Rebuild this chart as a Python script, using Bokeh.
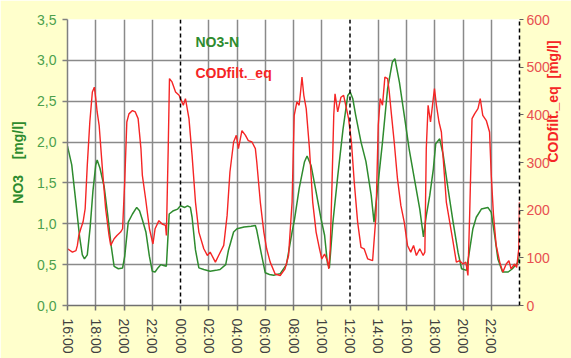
import math
from bokeh.plotting import figure
from bokeh.models import LinearAxis, Range1d, FixedTicker, Span, Label
from bokeh.embed import file_html
from bokeh.resources import INLINE

# ---- data (hours counted from 00:00 of day 1; 24 = midnight) ----
no3_hours = [16.0, 16.3, 16.6, 16.85, 17.05, 17.2, 17.4, 17.6, 17.8, 18.0, 18.1, 18.3, 18.6, 18.85,
             19.1, 19.3, 19.6, 19.9, 20.05, 20.3, 20.6, 20.9, 21.1, 21.3, 21.55, 21.8, 22.0, 22.2,
             22.4, 22.6, 22.8, 23.0, 23.1, 23.2, 23.5, 23.8, 24.0, 24.3, 24.5, 24.7, 24.82, 25.06,
             25.3, 25.65, 26.1, 26.5, 26.8, 27.2, 27.4, 27.76, 28.0, 28.5, 29.0, 29.3, 29.4, 29.76,
             30.0, 30.3, 30.6, 31.06, 31.5, 31.9, 32.07, 32.4, 32.78, 32.96, 33.25, 33.6, 33.95,
             34.2, 34.4, 34.54, 34.78, 35.13, 35.5, 35.84, 36.02, 36.2, 36.4, 36.78, 37.13, 37.5,
             37.7, 37.95, 38.3, 38.66, 39.0, 39.18, 39.5, 39.84, 40.2, 40.6, 40.94, 41.2, 41.4,
             41.65, 41.9, 42.07, 42.35, 42.6, 42.94, 43.3, 43.65, 43.9, 44.24, 44.4, 44.7, 44.94,
             45.3, 45.76, 46.0, 46.24, 46.47, 46.8, 47.2, 47.5, 47.9, 48.0]
no3_values = [1.95, 1.72, 1.25, 0.85, 0.62, 0.57, 0.62, 0.95, 1.4, 1.72, 1.78, 1.68, 1.45, 1.1,
              0.72, 0.48, 0.45, 0.46, 0.6, 1.02, 1.12, 1.2, 1.16, 1.05, 0.9, 0.6, 0.42, 0.41,
              0.46, 0.5, 0.49, 0.48, 0.8, 1.12, 1.16, 1.18, 1.22, 1.2, 1.22, 1.2, 1.08, 0.68,
              0.46, 0.44, 0.42, 0.43, 0.44, 0.5, 0.68, 0.9, 0.94, 0.96, 0.97, 0.98, 0.92, 0.6,
              0.4, 0.38, 0.37, 0.39, 0.5, 0.9, 1.05, 1.43, 1.76, 1.83, 1.71, 1.39, 1.06,
              0.86, 0.52, 0.46, 1.0, 1.58, 2.15, 2.57, 2.61, 2.53, 2.33, 2.0, 1.76, 1.35,
              1.02, 1.43, 2.0, 2.65, 2.98, 3.02, 2.73, 2.33, 1.9, 1.51, 1.18, 0.84, 1.1,
              1.35, 1.67, 1.98, 2.04, 1.84, 1.43, 1.02, 0.65, 0.45, 0.43, 0.6, 0.94, 1.08,
              1.18, 1.2, 1.14, 0.86, 0.57, 0.41, 0.41, 0.45, 0.53, 0.6]

cod_hours = [16.0, 16.35, 16.6, 16.7, 16.8, 16.94, 17.1, 17.25, 17.4, 17.58, 17.76, 17.9, 18.0, 18.1,
             18.24, 18.47, 18.7, 18.94, 19.06, 19.3, 19.5, 19.76, 19.9, 20.05, 20.2, 20.35, 20.6,
             20.8, 21.0, 21.2, 21.3, 21.53, 21.8, 22.05, 22.2, 22.47, 22.7, 22.94, 23.0, 23.13,
             23.22, 23.4, 23.65, 23.9, 24.0, 24.2, 24.35, 24.6, 24.82, 25.06, 25.3, 25.65, 25.9,
             26.1, 26.47, 26.7, 27.06, 27.3, 27.5, 27.76, 27.95, 28.1, 28.35, 28.6, 28.8, 29.06,
             29.3, 29.4, 29.65, 29.9, 30.1, 30.35, 30.7, 31.06, 31.4, 31.65, 31.9, 32.05, 32.24,
             32.4, 32.5, 32.6, 32.73, 32.9, 33.13, 33.36, 33.6, 33.84, 34.0, 34.2, 34.4, 34.5,
             34.6, 34.73, 34.85, 34.94, 35.13, 35.36, 35.55, 35.7, 35.9, 36.1, 36.3, 36.54, 36.78,
             37.0, 37.25, 37.6, 37.84, 38.0, 38.14, 38.3, 38.47, 38.66, 38.78, 38.94, 39.13, 39.36,
             39.6, 39.84, 40.07, 40.3, 40.5, 40.7, 40.94, 41.18, 41.3, 41.4, 41.53, 41.7, 41.84,
             41.98, 42.12, 42.3, 42.47, 42.6, 42.82, 43.06, 43.3, 43.53, 43.76, 44.0, 44.2, 44.35,
             44.47, 44.64, 44.82, 45.06, 45.22, 45.4, 45.65, 45.88, 46.0, 46.16, 46.35, 46.6,
             46.82, 47.06, 47.25, 47.4, 47.65, 47.8, 47.95, 48.0]
cod_values = [119, 112, 115, 126, 147, 161, 175, 203, 294, 385, 448, 458, 434, 406,
              378, 287, 203, 147, 126, 140, 147, 154, 161, 259, 385, 402, 409,
              406, 392, 329, 273, 224, 161, 129, 161, 178, 171, 168, 147, 329,
              476, 469, 448, 441, 434, 420, 434, 392, 315, 217, 154, 119, 105,
              112, 91, 105, 126, 189, 280, 343, 357, 329, 367, 357, 346, 343,
              329, 301, 217, 154, 119, 91, 66, 63, 77, 105, 217, 399, 427,
              420, 448, 479, 441, 413, 329, 217, 154, 119, 98, 108, 94, 77,
              119, 259, 399, 444, 406, 437, 441, 420, 392, 343, 259, 175, 122,
              119, 98, 94, 189, 378, 434, 420, 479, 476, 448, 399, 343, 266,
              210, 175, 126, 112, 126, 105, 119, 105, 112, 329, 420, 385, 420,
              455, 420, 385, 364, 308, 217, 175, 133, 91, 94, 87, 91, 63,
              189, 392, 402, 413, 434, 399, 388, 364, 273, 189, 126, 91,
              70, 87, 94, 77, 87, 80, 119, 217]

x_ticks = [16, 18, 20, 22, 24, 26, 28, 30, 32, 34, 36, 38, 40, 42, 44, 46]
x_tick_labels = ["16:00", "18:00", "20:00", "22:00", "00:00", "02:00", "04:00", "06:00",
                 "08:00", "10:00", "12:00", "14:00", "16:00", "18:00", "20:00", "22:00"]
dashed_hours = [24, 36]
no3_ticks = [0, 0.5, 1.0, 1.5, 2.0, 2.5, 3.0, 3.5]
no3_tick_labels = ["0,0", "0,5", "1,0", "1,5", "2,0", "2,5", "3,0", "3,5"]
cod_ticks = [0, 100, 200, 300, 400, 500, 600]

FONT = "Liberation Sans"
GREEN = "#2E8B2E"
RED = "#F52525"
GRID = "#8A8A8A"

p = figure(width=571, height=358, output_backend="svg", toolbar_location=None,
           x_range=Range1d(16, 48), y_range=Range1d(0, 3.5),
           min_border_left=67, min_border_right=52, min_border_top=19, min_border_bottom=53,
           background_fill_color="white", border_fill_color="#FFFFCC")
p.outline_line_color = None
p.extra_y_ranges = {"cod": Range1d(0, 600)}

# grid
p.xgrid.ticker = FixedTicker(ticks=[t for t in x_ticks if t not in dashed_hours and t != 16])
p.xgrid.grid_line_color = GRID
p.xgrid.grid_line_width = 1.5
p.ygrid.grid_line_color = GRID
p.ygrid.grid_line_width = 1.5

# x axis
xa = p.xaxis[0]
xa.ticker = FixedTicker(ticks=x_ticks)
xa.major_label_overrides = {t: l for t, l in zip(x_ticks, x_tick_labels)}
xa.major_label_orientation = -math.pi / 2
xa.major_label_text_font = FONT
xa.major_label_text_font_size = "14px"
xa.major_label_text_color = "#404040"
xa.major_label_standoff = 8
xa.major_tick_out = 5
xa.major_tick_in = 0
xa.minor_tick_line_color = None
xa.axis_line_color = "#707070"
xa.axis_line_width = 1.5
xa.major_tick_line_color = "#707070"
xa.major_tick_line_width = 1.5

# left axis
ya = p.yaxis[0]
ya.ticker = FixedTicker(ticks=no3_ticks)
ya.major_label_overrides = {t: l for t, l in zip(no3_ticks, no3_tick_labels)}
ya.major_label_text_font = FONT
ya.major_label_text_font_size = "14px"
ya.major_label_text_color = "#4C9F4C"
ya.major_label_standoff = 6
ya.major_tick_out = 5
ya.major_tick_in = 0
ya.minor_tick_line_color = None
ya.axis_line_color = "#808080"
ya.axis_line_width = 1.5
ya.major_tick_line_color = "#808080"
ya.major_tick_line_width = 1.5
ya.axis_label = "NO3\u00a0\u00a0\u00a0\u00a0[mg/l]"
ya.axis_label_text_font = FONT
ya.axis_label_text_font_size = "14px"
ya.axis_label_text_font_style = "bold"
ya.axis_label_text_color = GREEN
ya.axis_label_standoff = 8

# right axis
ra = LinearAxis(y_range_name="cod", ticker=FixedTicker(ticks=cod_ticks))
ra.major_label_text_font = FONT
ra.major_label_text_font_size = "14px"
ra.major_label_text_color = "#E85050"
ra.major_label_standoff = 3
ra.major_tick_out = 4
ra.major_tick_in = 0
ra.minor_tick_line_color = None
ra.axis_line_color = "black"
ra.axis_line_dash = "4 3"
ra.axis_line_width = 1.5
ra.major_tick_line_color = "#606060"
ra.axis_label = "CODfilt._eq\u00a0\u00a0[mg/l]"
ra.axis_label_orientation = math.pi / 2
ra.axis_label_text_font = FONT
ra.axis_label_text_font_size = "14px"
ra.axis_label_text_font_style = "bold"
ra.axis_label_text_color = RED
ra.axis_label_standoff = 0
p.add_layout(ra, "right")

# dashed day markers
for h in dashed_hours:
    p.add_layout(Span(location=h, dimension="height", line_color="black",
                      line_dash="4 3", line_width=1.5))

# series
p.line(no3_hours, no3_values, line_color=GREEN, line_width=1.5)
p.line(cod_hours, cod_values, line_color=RED, line_width=1.4, y_range_name="cod")

# legend texts
p.add_layout(Label(x=25.06, y=3.22, text="NO3-N", text_color=GREEN, text_font=FONT,
                   text_font_size="14px", text_font_style="bold", text_baseline="middle"))
p.add_layout(Label(x=25.06, y=2.85, text="CODfilt._eq", text_color=RED, text_font=FONT,
                   text_font_size="14px", text_font_style="bold", text_baseline="middle"))

open("out.html", "w").write(file_html(p, INLINE))
